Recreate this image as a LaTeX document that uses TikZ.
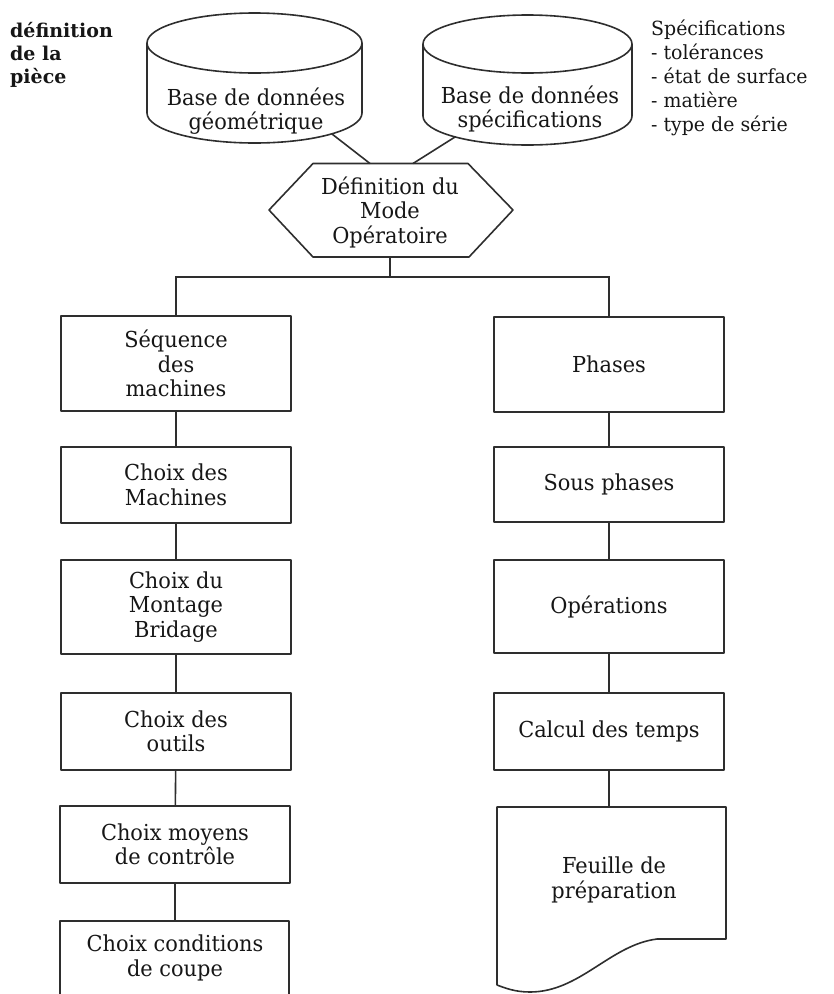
\documentclass[tikz,border=0pt]{standalone}
\usepackage{fontspec}
\setmainfont{DejaVu Serif}[FakeStretch=0.95]
\newfontfamily\notefont{DejaVu Serif}
\newfontfamily\listfont{DejaVu Serif}[FakeStretch=0.97]
\definecolor{ink}{HTML}{2E2E2E}
\definecolor{txt}{HTML}{161616}
\begin{document}
\begin{tikzpicture}[x=1pt,y=-1pt]
\tikzset{
  every node/.style={text=txt, font=\fontsize{22}{24.5}\selectfont, align=center, inner sep=0pt},
  outline/.style={draw=ink, line width=1.6pt, line join=round},
  stepbox/.style={outline, rectangle, minimum width=230pt},
  link/.style={draw=ink, line width=1.6pt},
  note/.style={align=left, anchor=west},
}
\useasboundingbox (0,0) rectangle (834,994);

% side notes
\node[note, font=\notefont\fontsize{19}{23}\selectfont\bfseries] (piece) at (10,55)
  {définition\\de la\\pièce};
\node[note, font=\listfont\fontsize{19.5}{24}\selectfont] (speclist) at (651,78)
  {Spécifications\\- tolérances\\- état de surface\\- matière\\- type de série};

% databases (cylinders)
\draw[outline] (254.5,43) ellipse [x radius=107.5pt, y radius=30pt];
\draw[outline] (147,43) -- (147,113)
  arc[start angle=180, end angle=360, x radius=107.5pt, y radius=30pt] -- (362,43);
\node (geo) at (256,111) {Base de données\\géométrique};
\coordinate (geoOut) at (332,134);

\draw[outline] (527.5,44) ellipse [x radius=104.5pt, y radius=29pt];
\draw[outline] (423,44) -- (423,116)
  arc[start angle=180, end angle=360, x radius=104.5pt, y radius=29pt] -- (632,44);
\node (spec) at (530,109) {Base de données\\spécifications};
\coordinate (specOut) at (455,137);

% operating mode (hexagon)
\coordinate (hW) at (269,210);
\coordinate (hNW) at (313,163.5);
\coordinate (hNE) at (468,163.5);
\coordinate (hE) at (513,210);
\coordinate (hSE) at (469,257);
\coordinate (hSW) at (313,257);
\draw[outline] (hW) -- (hNW) -- (hNE) -- (hE) -- (hSE) -- (hSW) -- cycle;
\node (mode) at (390,212) {Définition du\\Mode\\Opératoire};
\coordinate (hInA) at (370,163.5);
\coordinate (hInB) at (413,163.5);
\coordinate (hS) at (390,257);
\draw[link] (geoOut) -- (hInA);
\draw[link] (specOut) -- (hInB);

% left column
\node[stepbox, minimum height=95pt] (seq) at (176,363.5) {Séquence\\des\\machines};
\node[stepbox, minimum height=76pt] (mach) at (176,485) {Choix des\\Machines};
\node[stepbox, minimum height=94pt] (mont) at (176,607) {Choix du\\Montage\\Bridage};
\node[stepbox, minimum height=77pt] (outil) at (176,731.5) {Choix des\\outils};
\node[stepbox, minimum height=77pt] (ctrl) at (175,844.5) {Choix moyens\\de contrôle};
\draw[outline] (60,1000) -- (60,921) -- (289,921) -- (289,1000);
\node (coupe) at (175,958) {Choix conditions\\de coupe};
\coordinate (coupeIn) at (175,921);

% right column
\node[stepbox, minimum height=95pt] (phases) at (609,364.5) {Phases};
\node[stepbox, minimum height=75pt] (sous) at (609,484.5) {Sous phases};
\node[stepbox, minimum height=93pt] (ops) at (609,606.5) {Opérations};
\node[stepbox, minimum height=77pt] (calc) at (609,731.5) {Calcul des temps};
\draw[outline] (497,985) -- (497,807) -- (726,807) -- (726,939) -- (657,939)
  .. controls (610,945) and (580,992) .. (530,992)
  .. controls (515,992) and (505,988) .. (497,985);
\node (sheet) at (614,880) {Feuille de\\préparation};
\coordinate (sheetIn) at (609,807);

% connectors
\draw[link] (hS) -- ++(0,20) coordinate (junction);
\draw[link] (seq.north) |- (junction) -| (phases.north);
\draw[link] (seq) -- (mach);
\draw[link] (mach) -- (mont);
\draw[link] (mont) -- (outil);
\draw[link] (outil) -- (ctrl);
\draw[link] (ctrl.south) -- (coupeIn);
\draw[link] (phases) -- (sous);
\draw[link] (sous) -- (ops);
\draw[link] (ops) -- (calc);
\draw[link] (calc.south) -- (sheetIn);
\end{tikzpicture}
\end{document}
